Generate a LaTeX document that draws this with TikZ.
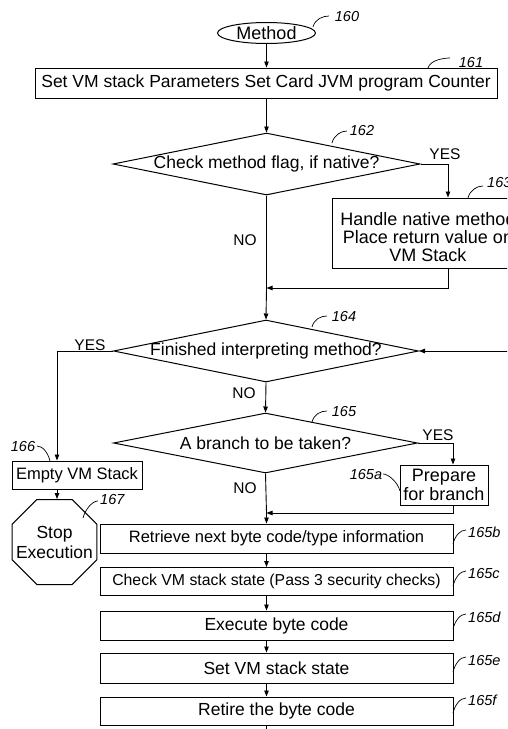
\documentclass[tikz,border=0pt]{standalone}
\usepackage{fontspec}
\setmainfont{Liberation Sans}
\usetikzlibrary{shapes.geometric,arrows.meta}
\newcommand\fsz[2]{\fontsize{#1pt}{#2pt}\selectfont}
\newcommand\leadup[2]{\draw[lead] (#1) .. controls +(2,-8) and +(-6,0) .. (#2);}
\newcommand\leaddn[2]{\draw[lead] (#1) .. controls +(6,0) and +(-2,-8) .. (#2);}
\tikzset{
  box/.style={draw, line width=1pt, rectangle, inner sep=0pt, align=center, font=\fsz{17.5}{19}},
  dia/.style={draw, line width=1pt, diamond, inner sep=0pt},
  dtext/.style={font=\fsz{17.5}{19}, inner sep=0pt},
  arr/.style={line width=0.9pt, -{Triangle[length=6pt,width=4.5pt]}},
  ln/.style={line width=0.9pt},
  lab/.style={font=\fsz{14.5}{16}\itshape, inner sep=0pt},
  yn/.style={font=\fsz{15.5}{17}, inner sep=0pt},
  lead/.style={line width=0.7pt},
}
\begin{document}
\begin{tikzpicture}[x=1pt,y=-1pt]
\useasboundingbox (0,0) rectangle (507,729);
\clip (0,0) rectangle (507,729);
\fill[white] (0,0) rectangle (507,729);

% shapes
\node[draw, ellipse, line width=1pt, minimum width=98pt, minimum height=21pt, inner sep=0pt, font=\fsz{18}{20}] (m160) at (266.5,33) {Method};
\node[box, minimum width=462pt, minimum height=30pt] (b161) at (266,83) {Set VM stack Parameters Set Card JVM program Counter};
\node[dia, minimum width=307pt, minimum height=62pt, label={[dtext]center:{Check method flag, if native?}}] (d162) at (266.5,164) {};
\node[box, minimum width=192pt, minimum height=70pt,
  label={[align=center, font=\fsz{18}{18}, inner sep=0pt, yshift=-4pt]center:{Handle native method\\Place return value on\\VM Stack}}] (b163) at (428,233) {};
\node[dia, minimum width=305pt, minimum height=62pt, label={[dtext]center:{Finished interpreting method?}}] (d164) at (266,351) {};
\node[dia, minimum width=304pt, minimum height=60pt, label={[dtext]center:{A branch to be taken?}}] (d165) at (265.5,443) {};
\node[box, minimum width=88pt, minimum height=40pt, font=\fsz{18}{19}] (b165a) at (444,485) {Prepare\\for branch};
\node[box, minimum width=130pt, minimum height=28pt, font=\fsz{16.5}{18}] (b166) at (77,475) {Empty VM Stack};
\node[draw, line width=1pt, regular polygon, regular polygon sides=8, minimum size=92pt, inner sep=0pt,
  label={[align=center, font=\fsz{17.5}{20}, inner sep=0pt]center:{Stop\\Execution}}] (o167) at (54.5,542) {};
\node[box, minimum width=353pt, minimum height=29pt, font=\fsz{16.5}{18}] (b165b) at (276.5,538.5) {Retrieve next byte code/type information};
\node[box, minimum width=353pt, minimum height=28pt, font=\fsz{15.8}{18}] (b165c) at (276.5,581.5) {Check VM stack state (Pass 3 security checks)};
\node[box, minimum width=353pt, minimum height=29pt] (b165d) at (276.5,625.5) {Execute byte code};
\node[box, minimum width=353pt, minimum height=30pt] (b165e) at (276.5,668) {Set VM stack state};
\node[box, minimum width=353pt, minimum height=28pt] (b165f) at (276.5,711) {Retire the byte code};

% connectors
\coordinate (j1) at (266.5,288);
\coordinate (j2) at (266.5,513);
\coordinate (r164) at (515,351);
\coordinate (bot) at (266.5,735);
\draw[arr] (m160.south) -- (m160.south |- b161.north);
\draw[arr] (m160.south |- b161.south) -- (d162.north);
\draw[arr] (d162.east) -| ([xshift=20pt]b163.north);
\draw[ln] (d162.south) -- (j1);
\draw[arr] ([xshift=20pt]b163.south) |- (j1);
\draw[arr] (j1) -- (d164.north);
\draw[arr] (r164) -- (d164.east);
\draw[arr] (d164.west) -| ([xshift=-20pt]b166.north);
\draw[arr] ([xshift=-20pt]b166.south) -- ([xshift=-20pt]b166.south |- o167.north);
\draw[arr] (d164.south) -- (d165.north);
\draw[arr] (d165.east) -| ([xshift=9pt]b165a.north);
\draw[ln] (d165.south) -- (j2);
\draw[arr] ([xshift=9pt]b165a.south) |- (j2);
\draw[arr] (j2) -- (j2 |- b165b.north);
\draw[arr] (j2 |- b165b.south) -- (j2 |- b165c.north);
\draw[arr] (j2 |- b165c.south) -- (j2 |- b165d.north);
\draw[arr] (j2 |- b165d.south) -- (j2 |- b165e.north);
\draw[arr] (j2 |- b165e.south) -- (j2 |- b165f.north);
\draw[ln] (j2 |- b165f.south) -- (bot);

% yes / no
\node[yn] (y162) at (445,154) {YES};
\node[yn] (n162) at (245,240) {NO};
\node[yn] (y164) at (90,345) {YES};
\node[yn] (n164) at (244,393) {NO};
\node[yn] (y165) at (438,435) {YES};
\node[yn] (n165) at (245,488) {NO};

% reference labels
\node[lab] (l160) at (347,17) {160};
\leadup{313,27}{329,16}
\node[lab] (l161) at (471,63) {161};
\leadup{428,68}{450,58}
\node[lab] (l162) at (362,131) {162};
\leadup{332,143}{347,131}
\node[lab, anchor=west] (l163) at (487,183) {163};
\leadup{468,198}{483,186}
\node[lab] (l164) at (344,317) {164};
\leadup{312,327}{327,316}
\node[lab] (l165) at (344,412) {165};
\leadup{312,422}{327,411}
\node[lab] (l165a) at (366,475) {165a};
\leaddn{383,474}{400,491}
\node[lab] (l166) at (23,447) {166};
\leaddn{37,446}{50,461}
\node[lab, anchor=west] (l167) at (100,500) {167};
\leadup{83,518}{98,501}
\node[lab, anchor=west] (l165b) at (468,532) {165b};
\leadup{453,544}{466,530}
\node[lab, anchor=west] (l165c) at (468,573) {165c};
\leadup{453,586}{466,571}
\node[lab, anchor=west] (l165d) at (468,617) {165d};
\leadup{453,629}{466,614}
\node[lab, anchor=west] (l165e) at (468,660) {165e};
\leadup{453,672}{466,657}
\node[lab, anchor=west] (l165f) at (468,700) {165f};
\leadup{453,713}{466,698}
\end{tikzpicture}
\end{document}
